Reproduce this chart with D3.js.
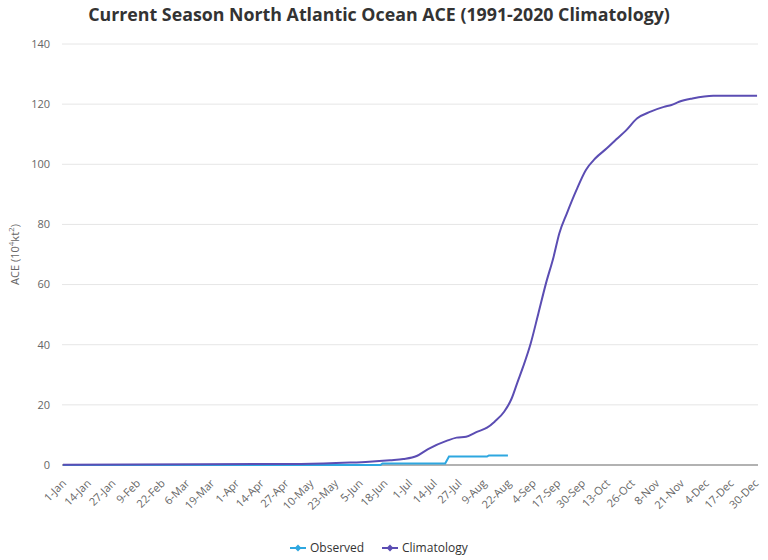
<!DOCTYPE html>
<html>
<head>
<meta charset="utf-8">
<script src="https://cdn.jsdelivr.net/npm/d3@7"></script>
<style>
  body { margin: 0; background: #fff; font-family: "Open Sans", "Noto Sans", sans-serif; }
  .grid line { stroke: #e6e6e6; }
  .tickY, .tickX { fill: #666; font-size: 11px; }
</style>
</head>
<body>
<div id="chart"></div>
<script>
// climatology (1991-2020) at selected dates
const climDates = ["1-Jan", "13-Mar", "5-May", "31-May", "10-Jun", "21-Jun", "28-Jun", "5-Jul",
  "11-Jul", "21-Jul", "26-Jul", "31-Jul", "6-Aug", "11-Aug", "15-Aug", "20-Aug", "24-Aug",
  "27-Aug", "30-Aug", "3-Sep", "7-Sep", "11-Sep", "15-Sep", "18-Sep", "22-Sep", "27-Sep",
  "2-Oct", "7-Oct", "13-Oct", "18-Oct", "23-Oct", "29-Oct", "5-Nov", "12-Nov", "16-Nov",
  "20-Nov", "27-Nov", "8-Dec", "31-Dec"];
const climValues = [0.05, 0.23, 0.35, 0.8, 1.1, 1.6, 2.0, 3.0,
  5.3, 8.1, 9.1, 9.4, 11.1, 12.4, 14.4, 17.7, 22.2,
  27.5, 32.7, 40.5, 50.4, 60.4, 69.2, 77.0, 83.7, 91.4,
  98.1, 102, 105.3, 108.3, 111.2, 115.3, 117.5, 119.1, 119.7,
  120.8, 121.9, 122.8, 122.8];

// observed, current season
const obsDates = ["1-Jan", "16-Jun", "17-Jun", "20-Jul", "22-Jul", "11-Aug", "12-Aug", "22-Aug"];
const obsValues = [0, 0, 0.5, 0.5, 2.8, 2.8, 3.2, 3.2];

const tickLabels = ["1-Jan", "14-Jan", "27-Jan", "9-Feb", "22-Feb", "6-Mar", "19-Mar", "1-Apr",
  "14-Apr", "27-Apr", "10-May", "23-May", "5-Jun", "18-Jun", "1-Jul", "14-Jul", "27-Jul",
  "9-Aug", "22-Aug", "4-Sep", "17-Sep", "30-Sep", "13-Oct", "26-Oct", "8-Nov", "21-Nov",
  "4-Dec", "17-Dec", "30-Dec"];
const yTicks = [0, 20, 40, 60, 80, 100, 120, 140];

const width = 768;
const height = 560;
const margin = { left: 62, right: 10, top: 44, bottom: 95 };

// every day of a leap-year season as a category
const fmt = d3.timeFormat("%-d-%b");
const allDays = d3.timeDay.range(new Date(2020, 0, 1), new Date(2021, 0, 1)).map(fmt);

const svg = d3.select("#chart")
  .append("svg")
    .attr("width", width)
    .attr("height", height);

const x = d3.scaleBand()
  .domain(allDays)
  .range([margin.left, width - margin.right]);
const xc = d => x(d) + x.bandwidth() / 2;

const y = d3.scaleLinear()
  .domain([0, 140])
  .range([height - margin.bottom, margin.top]);

svg.append("text")
  .attr("x", 379)
  .attr("y", 21)
  .attr("text-anchor", "middle")
  .attr("fill", "#333")
  .style("font-size", "17.8px")
  .style("font-weight", "bold")
  .text("Current Season North Atlantic Ocean ACE (1991-2020 Climatology)");

// grid
svg.append("g")
  .attr("class", "grid")
  .selectAll("line")
  .data(yTicks.slice(1))
  .join("line")
    .attr("x1", margin.left)
    .attr("x2", width - margin.right)
    .attr("y1", d => y(d))
    .attr("y2", d => y(d));

svg.append("g")
  .selectAll("text")
  .data(yTicks)
  .join("text")
    .attr("class", "tickY")
    .attr("x", 50)
    .attr("y", d => y(d))
    .attr("dy", "0.35em")
    .attr("text-anchor", "end")
    .text(d => d);

const yTitle = svg.append("text")
  .attr("transform", `translate(19, ${y(70)}) rotate(-90)`)
  .attr("text-anchor", "middle")
  .attr("fill", "#666")
  .style("font-size", "11px");
yTitle.append("tspan").text("ACE (10");
yTitle.append("tspan").attr("baseline-shift", "super").style("font-size", "8px").text("4");
yTitle.append("tspan").text("kt");
yTitle.append("tspan").attr("baseline-shift", "super").style("font-size", "8px").text("2");
yTitle.append("tspan").text(")");

// x axis line
svg.append("line")
  .attr("x1", margin.left)
  .attr("x2", width - margin.right)
  .attr("y1", y(0))
  .attr("y2", y(0))
  .attr("stroke", "#999")
  .attr("stroke-width", 1.5);

svg.append("g")
  .selectAll("text")
  .data(tickLabels)
  .join("text")
    .attr("class", "tickX")
    .attr("text-anchor", "end")
    .attr("transform", d => `translate(${xc(d) + 4}, ${y(0) + 19}) rotate(-45)`)
    .text(d => d);

const line = d3.line()
  .x(d => xc(d[0]))
  .y(d => y(d[1]));

const obsColor = "#2ea7e0";
const climColor = "#5b4db3";

svg.append("path")
  .datum(d3.zip(obsDates, obsValues))
  .attr("fill", "none")
  .attr("stroke", obsColor)
  .attr("stroke-width", 2)
  .attr("d", line);

svg.append("path")
  .datum(d3.zip(climDates, climValues))
  .attr("fill", "none")
  .attr("stroke", climColor)
  .attr("stroke-width", 2)
  .attr("stroke-linejoin", "round")
  .attr("d", line.curve(d3.curveMonotoneX));

// legend
const legend = [
  { name: "Observed", color: obsColor, x: 290 },
  { name: "Climatology", color: climColor, x: 382 }
];
const lg = svg.append("g")
  .selectAll("g")
  .data(legend)
  .join("g")
    .attr("transform", d => `translate(${d.x}, 548)`);
lg.append("line")
  .attr("x1", 0).attr("x2", 16)
  .attr("stroke", d => d.color)
  .attr("stroke-width", 2);
lg.append("path")
  .attr("d", d3.symbol(d3.symbolDiamond2, 30))
  .attr("transform", "translate(8,0)")
  .attr("fill", d => d.color);
lg.append("text")
  .attr("x", 20)
  .attr("dy", "0.35em")
  .attr("fill", "#333")
  .style("font-size", "12px")
  .text(d => d.name);
</script>
</body>
</html>
